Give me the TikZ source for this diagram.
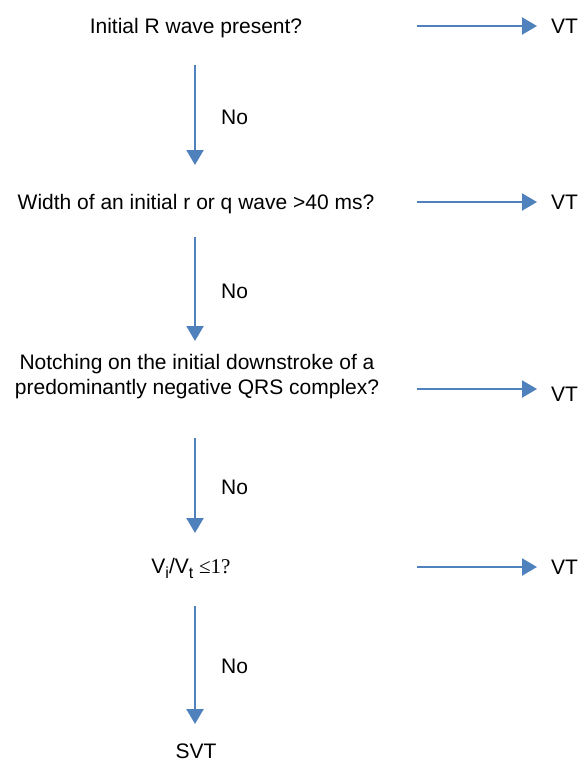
\documentclass[tikz,border=0pt]{standalone}
\usepackage{fontspec}
\setmainfont{Liberation Sans}
\newfontfamily\serifpart{Liberation Serif}
\usetikzlibrary{arrows.meta}
\definecolor{flowblue}{RGB}{79,129,189}
\newcommand{\lowsub}[1]{\raisebox{-5pt}{\fontsize{16}{16}\selectfont #1}}
\tikzset{
  lbl/.style={anchor=base, inner sep=0pt, font=\fontsize{21}{25}\selectfont, align=center},
  nolbl/.style={anchor=base west, inner sep=0pt, font=\fontsize{21}{25}\selectfont},
  vtlbl/.style={anchor=base west, inner sep=0pt, font=\fontsize{21}{25}\selectfont},
  flow/.style={draw=flowblue, line width=2.2pt, -{Triangle[length=15pt,width=17pt]}, color=flowblue},
}
\begin{document}
\begin{tikzpicture}[x=1pt,y=-1pt]
\useasboundingbox (0,0) rectangle (580,763);
% questions
\node[lbl] (q1) at (196,33.5) {Initial R wave present?};
\node[lbl] (q2) at (196,209) {Width of an initial r or q wave >40 ms?};
\node[lbl, anchor=north] (q3) at (197,354) {Notching on the initial downstroke of a\\predominantly negative QRS complex?};
\node[lbl] (q4) at (191,573) {V\lowsub{i}/V\lowsub{t} {\serifpart ≤1?}};
\node[lbl] (svt) at (196,758) {SVT};
% VT outcomes
\node[vtlbl] (vt1) at (551,33.5) {VT};
\node[vtlbl] (vt2) at (551,209) {VT};
\node[vtlbl] (vt3) at (551,401) {VT};
\node[vtlbl] (vt4) at (551,574) {VT};
% No labels
\node[nolbl] (no1) at (221,124.5) {No};
\node[nolbl] (no2) at (221,298.5) {No};
\node[nolbl] (no3) at (221,494) {No};
\node[nolbl] (no4) at (221,673.5) {No};
% connector endpoints
\coordinate (h1s) at (417,26);   \coordinate (h1e) at (537,26);
\coordinate (h2s) at (417,202);  \coordinate (h2e) at (537,202);
\coordinate (h3s) at (417,389);  \coordinate (h3e) at (537,389);
\coordinate (h4s) at (417,567);  \coordinate (h4e) at (537,567);
\coordinate (v1s) at (195,65);   \coordinate (v1e) at (195,165);
\coordinate (v2s) at (195,237);  \coordinate (v2e) at (195,341);
\coordinate (v3s) at (195,438);  \coordinate (v3e) at (195,533);
\coordinate (v4s) at (195,606);  \coordinate (v4e) at (195,724);
% connectors
\draw[flow] (h1s) -- (h1e);
\draw[flow] (h2s) -- (h2e);
\draw[flow] (h3s) -- (h3e);
\draw[flow] (h4s) -- (h4e);
\draw[flow] (v1s) -- (v1e);
\draw[flow] (v2s) -- (v2e);
\draw[flow] (v3s) -- (v3e);
\draw[flow] (v4s) -- (v4e);
\end{tikzpicture}
\end{document}
